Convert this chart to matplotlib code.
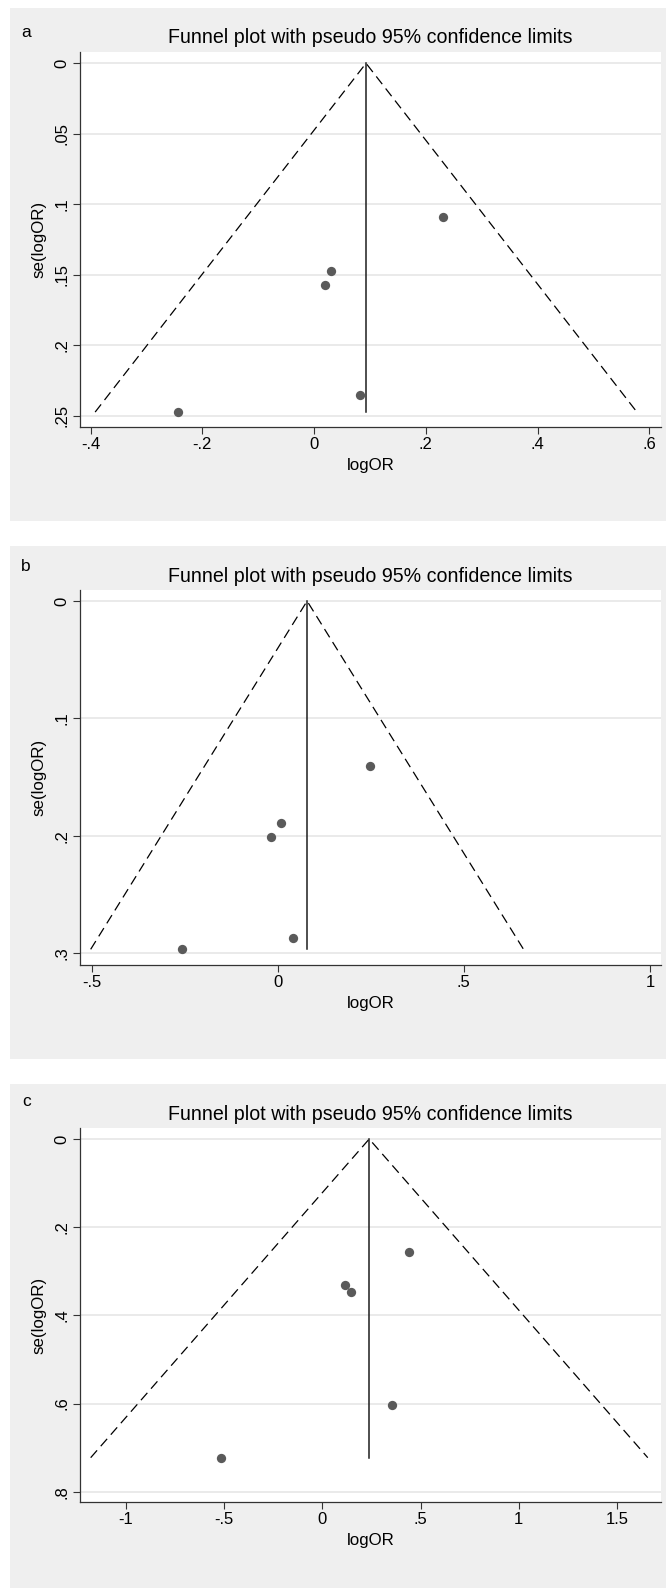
import matplotlib
matplotlib.use("Agg")
import matplotlib.pyplot as plt
from matplotlib.patches import Rectangle

plt.rcParams["font.family"] = ["Liberation Sans", "DejaVu Sans"]
plt.rcParams["lines.scale_dashes"] = False

W, H = 666, 1588
DPI = 100

# ---- data: study log odds ratios, their standard errors, pooled estimate ----
a_logor = [0.231, 0.030, 0.020, 0.082, -0.243]
a_se = [0.109, 0.147, 0.157, 0.235, 0.2474]
a_theta = 0.093

b_logor = [0.249, 0.010, -0.017, 0.041, -0.258]
b_se = [0.1405, 0.189, 0.201, 0.287, 0.2966]
b_theta = 0.079

c_logor = [0.441, 0.116, 0.144, 0.355, -0.513]
c_se = [0.257, 0.331, 0.3465, 0.603, 0.7228]
c_theta = 0.239

a_xticks = [-0.4, -0.2, 0, 0.2, 0.4, 0.6]
a_xlabels = ["-.4", "-.2", "0", ".2", ".4", ".6"]
a_yticks = [0, 0.05, 0.1, 0.15, 0.2, 0.25]
a_ylabels = ["0", ".05", ".1", ".15", ".2", ".25"]

b_xticks = [-0.5, 0, 0.5, 1]
b_xlabels = ["-.5", "0", ".5", "1"]
b_yticks = [0, 0.1, 0.2, 0.3]
b_ylabels = ["0", ".1", ".2", ".3"]

c_xticks = [-1, -0.5, 0, 0.5, 1, 1.5]
c_xlabels = ["-1", "-.5", "0", ".5", "1", "1.5"]
c_yticks = [0, 0.2, 0.4, 0.6, 0.8]
c_ylabels = ["0", ".2", ".4", ".6", ".8"]

title = "Funnel plot with pseudo 95% confidence limits"

# ---- layout in pixels (left, right, top, bottom) ----
panels = [
    dict(letter="a", logor=a_logor, se=a_se, theta=a_theta,
         xt=a_xticks, xl=a_xlabels, yt=a_yticks, yl=a_ylabels,
         xlim=(-0.419, 0.621), ylim=(0.2582, -0.0082),
         box=(80, 661, 51.7, 427.3), grey=(10, 666, 8, 520.7),
         letter_xy=(21, 36.7)),
    dict(letter="b", logor=b_logor, se=b_se, theta=b_theta,
         xt=b_xticks, xl=b_xlabels, yt=b_yticks, yl=b_ylabels,
         xlim=(-0.531, 1.0296), ylim=(0.3097, -0.0094),
         box=(80, 661, 590, 964.7), grey=(10, 666, 546, 1058.7),
         letter_xy=(21, 570.7)),
    dict(letter="c", logor=c_logor, se=c_se, theta=c_theta,
         xt=c_xticks, xl=c_xlabels, yt=c_yticks, yl=c_ylabels,
         xlim=(-1.232, 1.723), ylim=(0.824, -0.0243),
         box=(80, 661, 1128.3, 1502.3), grey=(10, 666, 1084, 1588),
         letter_xy=(22, 1106)),
]

fig = plt.figure(figsize=(W / DPI, H / DPI), dpi=DPI, facecolor="white")

GREY = "#efefef"
AXC = "#333333"
TICK_FS = 12
LABEL_FS = 12.2


def fx(px):
    return px / W


def fy(py):
    return 1 - py / H


for p in panels:
    gx0, gx1, gy0, gy1 = p["grey"]
    fig.patches.append(Rectangle((fx(gx0), fy(gy1)), fx(gx1 - gx0), (gy1 - gy0) / H,
                                 transform=fig.transFigure, facecolor=GREY,
                                 edgecolor="none", zorder=-1))

    l, r, t, b = p["box"]
    ax = fig.add_axes([fx(l), fy(b), fx(r - l), (b - t) / H])
    ax.set_zorder(1)
    ax.set_facecolor("white")
    ax.set_xlim(*p["xlim"])
    ax.set_ylim(*p["ylim"])

    for s in ("top", "right"):
        ax.spines[s].set_visible(False)
    for s in ("left", "bottom"):
        ax.spines[s].set_color(AXC)
        ax.spines[s].set_linewidth(0.9)

    ax.set_xticks(p["xt"])
    ax.set_xticklabels(p["xl"])
    ax.set_yticks(p["yt"])
    ax.set_yticklabels(p["yl"], rotation=90, va="center")
    ax.tick_params(axis="both", length=4.8, width=0.8, color=AXC,
                   labelsize=TICK_FS, labelcolor="black")
    ax.tick_params(axis="x", pad=2.5)
    ax.tick_params(axis="y", pad=3)

    ax.yaxis.grid(True, color="#e4e4e4", linewidth=1.1)
    ax.set_axisbelow(True)

    # pseudo 95% confidence limits
    theta = p["theta"]
    se_max = max(p["se"])
    ax.plot([theta - 1.96 * se_max, theta, theta + 1.96 * se_max],
            [se_max, 0, se_max], color="black", linewidth=0.9,
            dashes=(7.0, 4.0), zorder=2)
    ax.plot([theta, theta], [0, se_max], color="#1e1e1e", linewidth=1.1,
            zorder=2)

    ax.plot(p["logor"], p["se"], linestyle="none", marker="o",
            markersize=6.7, color="#5a5a5a", markeredgewidth=0, zorder=3)

    ax.set_xlabel("logOR", fontsize=LABEL_FS)
    ax.xaxis.label.set_va("center")
    ax.xaxis.set_label_coords(0.5, -38.5 / (b - t))
    ax.set_ylabel("se(logOR)", fontsize=LABEL_FS)
    ax.yaxis.label.set_va("center")
    ax.yaxis.set_label_coords(-41.5 / (r - l), 0.5)

    fig.text(fx((l + r) / 2), fy(t - 8.5), title, ha="center", va="baseline",
             fontsize=14.1, color="black")
    lx, ly = p["letter_xy"]
    fig.text(fx(lx), fy(ly), p["letter"], ha="left", va="baseline",
             fontsize=12.5, color="black")

fig.savefig("out.png", dpi=DPI, facecolor="white")
